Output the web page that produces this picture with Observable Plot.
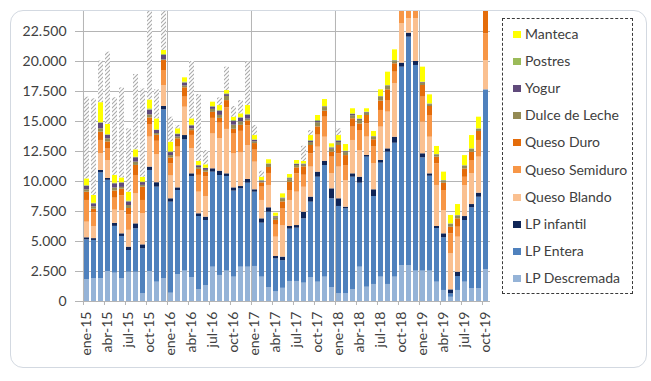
<!DOCTYPE html>
<html>
<head>
<meta charset="utf-8">
<script src="https://cdn.jsdelivr.net/npm/d3@7"></script>
<script src="https://cdn.jsdelivr.net/npm/@observablehq/plot@0.6"></script>
<style>
html,body{margin:0;padding:0;background:#fff;}
body{width:651px;height:381px;position:relative;overflow:hidden;font-family:Lato,"Liberation Sans",sans-serif;}
#chart{position:absolute;left:0;top:0;}
#card{position:absolute;left:10px;top:10px;width:637px;height:358px;border:1px solid #d3d9e1;border-radius:13px;box-sizing:border-box;pointer-events:none;}
#legend{position:absolute;left:502px;top:18px;width:131px;height:276px;border:1px dashed #3a3a3a;box-sizing:border-box;background:#fff;}
.item{position:absolute;left:10px;height:16px;line-height:16px;font-size:14px;color:#404040;white-space:nowrap;}
.sw{display:inline-block;width:8px;height:7px;margin-right:4px;vertical-align:middle;position:relative;top:-1px;}
</style>
</head>
<body>
<div id="chart"></div>
<div id="card"></div>
<div id="legend"></div>
<script>
// ---- categories ----
const mesNombres = ["ene","feb","mar","abr","may","jun","jul","ago","sep","oct","nov","dic"];
const anios = ["15","16","17","18","19"];
const meses = anios.flatMap(a => mesNombres.map(m => `${m}-${a}`)).slice(0, 58);
const etiquetasX = ["ene-15","abr-15","jul-15","oct-15","ene-16","abr-16","jul-16","oct-16","ene-17","abr-17","jul-17","oct-17","ene-18","abr-18","jul-18","oct-18","ene-19","abr-19","jul-19","oct-19"];
const inicioAnio = ["ene-15","ene-16","ene-17","ene-18","ene-19"];
const ticksY = [0,2500,5000,7500,10000,12500,15000,17500,20000,22500];

const series = ["LP Descremada","LP Entera","LP infantil","Queso Blando","Queso Semiduro","Queso Duro","Dulce de Leche","Yogur","Postres","Manteca","Otros"];
const colores = ["#95b3d7","#4f81bd","#0f2557","#fac090","#f79646","#e46c0a","#948a54","#604a7b","#9bbb59","#ffff00","url(#hatch)"];
const legendItems = ["Manteca","Postres","Yogur","Dulce de Leche","Queso Duro","Queso Semiduro","Queso Blando","LP infantil","LP Entera","LP Descremada"];

// ---- series values (one per month, ene-15 .. oct-19) ----
const lpDescremada = [1810,1890,1900,2500,2360,1890,2440,2440,640,2500,1610,1890,690,2250,2530,2000,970,1330,2860,2170,2530,2030,2860,2860,2920,2030,1140,800,1100,1670,1670,1530,1970,1610,2030,1140,640,640,970,2860,1190,1420,2030,1420,2030,3000,3000,2530,2530,2530,1610,920,350,920,1610,1060,1060,2640];
const lpEntera = [3330,3200,8820,7600,3900,3530,1810,3620,3750,8420,7920,14080,7590,7000,10940,8420,6110,5420,7920,8330,7890,7170,6530,7000,6190,4500,6300,2750,2300,4360,4440,5360,6310,8750,9300,7420,7280,7080,9390,7000,10840,7330,9500,11030,11160,16530,19030,17140,9440,7910,4470,4390,290,1160,5140,6750,7630,15000];
const lpInfantil = [170,150,200,150,250,220,280,410,330,280,370,280,280,220,360,220,230,280,280,360,220,270,190,310,200,360,370,200,300,220,220,550,420,420,360,830,640,140,280,500,140,560,220,270,500,330,330,330,340,200,170,330,330,360,330,270,340,0];
const quesoBlando = [1300,1000,1390,1500,1100,1920,1400,2500,2590,2500,2350,1750,1900,2560,2360,2100,1800,1700,2900,2700,3700,2830,2800,2830,2300,1530,1860,1610,2600,2170,2780,2080,2500,2080,2000,1250,2640,2220,2780,2220,1530,2170,2780,3060,4450,3280,1200,3560,2630,3050,3420,1940,3000,2920,2580,2560,3000,2440];
const quesoSemiduro = [1810,1150,1110,950,1000,1250,1300,1530,1110,1050,1100,1250,1000,830,840,1100,1400,1650,1300,1300,1800,1650,1800,1650,1000,1110,1000,1000,1400,830,1530,1000,1100,1000,1670,1390,1100,1250,1110,1670,1100,1390,1390,970,970,1500,1500,1500,2090,1810,1800,1670,1670,830,690,1110,1390,2230];
const quesoDuro = [690,300,690,600,600,550,520,840,1110,550,500,830,500,700,780,400,500,400,500,400,600,400,500,400,550,350,500,400,600,700,500,700,700,690,500,420,700,830,700,550,700,610,780,890,700,800,800,800,970,750,560,610,550,700,700,690,750,2600];
const dulceDeLeche = [200,200,280,250,250,150,250,280,150,250,150,60,200,150,150,150,150,150,250,250,350,350,300,150,150,80,250,200,250,200,200,150,250,350,300,250,250,250,250,300,200,200,300,300,200,200,200,200,200,150,150,150,220,220,210,220,160,200];
const yogur = [300,250,470,300,350,360,300,360,230,400,250,360,250,200,250,250,150,150,200,350,150,300,300,330,130,80,30,100,50,80,80,50,100,100,50,80,100,70,100,80,50,40,50,30,40,50,50,50,50,40,40,40,30,30,30,30,30,50];
const postres = [50,50,50,50,50,40,70,50,40,100,50,80,60,60,70,50,30,30,40,60,70,80,50,60,30,40,20,50,40,80,50,50,70,80,40,80,70,50,60,40,30,30,30,30,30,50,50,50,30,30,30,30,30,30,30,30,30,50];
const manteca = [560,650,1660,850,650,390,740,610,410,750,920,340,810,420,360,530,330,280,360,410,270,280,310,740,360,280,340,250,330,270,280,200,410,420,580,280,410,550,420,280,280,420,560,1110,890,800,800,800,1250,750,670,700,700,910,840,1110,970,800];
const otros = [6810,8050,3470,6030,6470,7500,5280,6280,7360,8200,2420,4000,2080,280,0,4780,5580,1190,0,640,1950,890,1110,3620,840,500,0,0,0,0,0,1270,420,0,0,0,560,0,0,0,0,0,0,0,0,0,0,0,0,0,0,0,0,0,0,0,0,0];

const valoresPorSerie = [lpDescremada,lpEntera,lpInfantil,quesoBlando,quesoSemiduro,quesoDuro,dulceDeLeche,yogur,postres,manteca,otros];

const tabla = [];
meses.forEach((mes, i) => {
  valoresPorSerie.forEach((arr, j) => {
    tabla.push({mes, serie: series[j], valor: arr[i]});
  });
});

const fmt = d3.formatLocale({decimal: ",", thousands: ".", grouping: [3], currency: ["$", ""]}).format(",.0f");

const left = 82, right = 490;
const step = (right - left) / meses.length;
const gris = "#b4b4b4";

const svg = Plot.plot({
  width: 651,
  height: 381,
  marginLeft: left,
  marginRight: 651 - right,
  marginTop: 11,
  marginBottom: 80,
  style: {fontFamily: "Lato, 'Liberation Sans', sans-serif", fontSize: "14px", color: "#404040", background: "transparent", overflow: "visible"},
  x: {type: "band", domain: meses, paddingInner: 0.27, paddingOuter: 0.135, label: null},
  y: {domain: [0, 24167], label: null},
  color: {domain: series, range: colores},
  marks: [
    Plot.ruleY(ticksY, {stroke: gris, strokeWidth: 1}),
    Plot.ruleX(inicioAnio, {x: d => d, dx: -step / 2, stroke: gris, strokeWidth: 1}),
    Plot.barY(tabla, {x: "mes", y: "valor", fill: "serie", order: null, clip: true}),
    Plot.ruleY([0], {stroke: gris}),
    Plot.axisY({ticks: ticksY, tickFormat: fmt, tickSize: 7, tickPadding: 9, stroke: gris, color: "#404040", label: null, fontSize: 14}),
    Plot.axisX({ticks: etiquetasX, tickSize: 4, tickFormat: () => "", dx: -step / 2, stroke: gris, label: null}),
    Plot.axisX({ticks: etiquetasX, tickSize: 0, tickPadding: 10, tickRotate: -90, color: "#404040", label: null, fontSize: 14})
  ]
});

const defs = d3.select(svg).insert("defs", ":first-child");
const pat = defs.append("pattern").attr("id", "hatch").attr("patternUnits", "userSpaceOnUse").attr("width", 4).attr("height", 4);
pat.append("rect").attr("width", 4).attr("height", 4).attr("fill", "#ffffff");
pat.append("path").attr("d", "M-1,1 L1,-1 M0,4 L4,0 M3,5 L5,3").attr("stroke", "#ababab").attr("stroke-width", 1.1);

document.getElementById("chart").appendChild(svg);

// legend
const leg = document.getElementById("legend");
legendItems.forEach((name, i) => {
  const div = document.createElement("div");
  div.className = "item";
  div.style.top = (7 + i * 27.1) + "px";
  const sw = document.createElement("span");
  sw.className = "sw";
  sw.style.background = colores[series.indexOf(name)];
  div.appendChild(sw);
  div.appendChild(document.createTextNode(name));
  leg.appendChild(div);
});
</script>
</body>
</html>
